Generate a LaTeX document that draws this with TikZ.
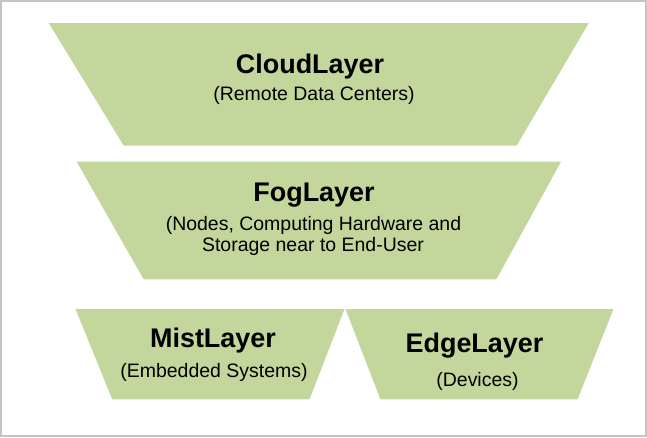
\documentclass[tikz,border=0pt]{standalone}
\usepackage{fontspec}
\setmainfont{Liberation Sans}
\definecolor{layergreen}{HTML}{C3D69B}
\definecolor{framegray}{HTML}{C4C4C4}
\tikzset{
  layer/.style={fill=layergreen, draw=none},
  ltitle/.style={inner sep=0pt, anchor=base, font=\fontsize{20.2}{24}\selectfont\bfseries},
  lsub/.style={inner sep=0pt, anchor=base, font=\fontsize{14.6}{17}\selectfont},
}
\begin{document}
\begin{tikzpicture}[x=0.75pt, y=-0.75pt]
\useasboundingbox (0,0) rectangle (647,437);
\draw[framegray, line width=1.5pt] (1,1) rectangle (645.5,435.5);
% shapes
\path[layer] (48.7,23) -- (588.8,23) -- (516.6,145.7) -- (123.8,145.7) -- cycle;
\path[layer] (76.7,161.7) -- (561,161.7) -- (496.4,279.3) -- (143.6,279.3) -- cycle;
\path[layer] (75.5,309) -- (344.5,309) -- (309.5,399.3) -- (112.2,399.3) -- cycle;
\path[layer] (345.5,309) -- (613.5,309) -- (577.6,399.3) -- (380.4,399.3) -- cycle;
% texts
\node[ltitle] (cloudT) at (310,73.5) {CloudLayer};
\node[lsub] (cloudS) at (314,100) {(Remote Data Centers)};
\node[ltitle] (fogT) at (314,201) {FogLayer};
\node[lsub] (fogS1) at (313.5,230) {(Nodes, Computing Hardware and};
\node[lsub] (fogS2) at (313,251) {Storage near to End-User};
\node[ltitle] (mistT) at (213,347) {MistLayer};
\node[lsub] (mistS) at (214,377) {(Embedded Systems)};
\node[ltitle] (edgeT) at (474.5,352.5) {EdgeLayer};
\node[lsub] (edgeS) at (477.5,386) {(Devices)};
\end{tikzpicture}
\end{document}
